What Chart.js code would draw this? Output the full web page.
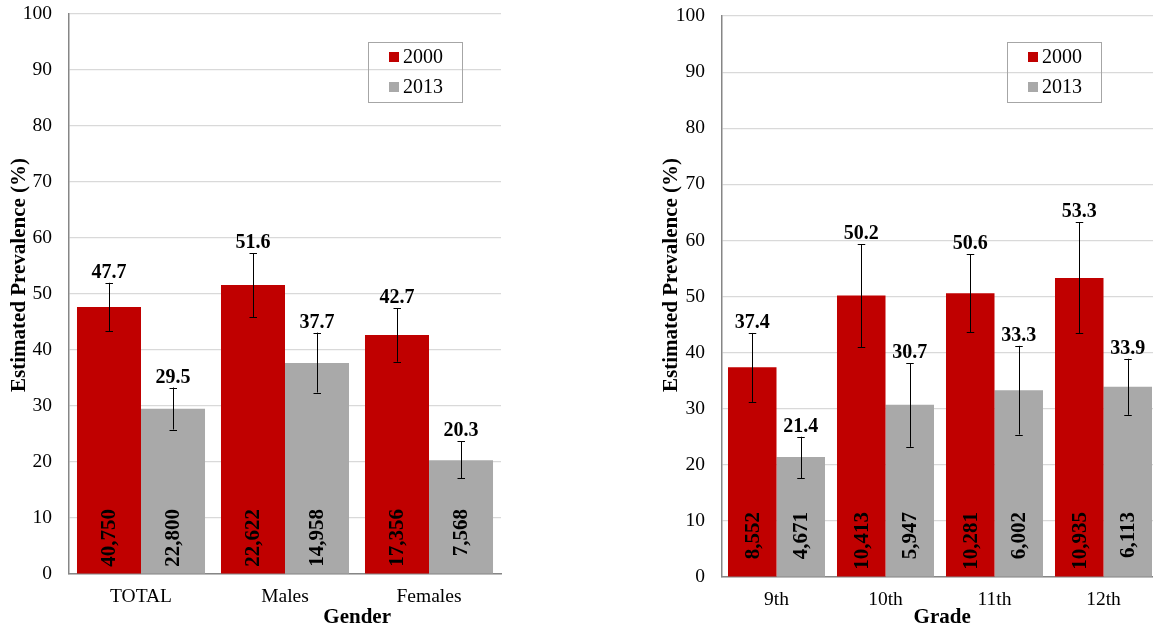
<!DOCTYPE html>
<html>
<head>
<meta charset="utf-8">
<script src="https://cdn.jsdelivr.net/npm/chart.js@4.4.0/dist/chart.umd.min.js"></script>
<style>
  html, body { margin: 0; padding: 0; background: #fff; overflow: hidden; width: 1153px; height: 630px; }
  .box { position: absolute; top: 0; }
  #left { left: 0; }
  #right { left: 645px; }
</style>
</head>
<body>
<div class="box" id="left"><canvas id="genderChart" width="515" height="630"></canvas></div>
<div class="box" id="right"><canvas id="gradeChart" width="520" height="630"></canvas></div>
<script>
// ---------------- data ----------------
const years = ['2000', '2013'];

const genderCats = ['TOTAL', 'Males', 'Females'];
const gender2000 = [47.7, 51.6, 42.7];
const gender2013 = [29.5, 37.7, 20.3];
const genderLow2000 = [43.4, 45.9, 37.9];
const genderHigh2000 = [52.0, 57.3, 47.5];
const genderLow2013 = [25.8, 32.4, 17.1];
const genderHigh2013 = [33.3, 43.1, 23.7];
const genderN2000 = ['40,750', '22,622', '17,356'];
const genderN2013 = ['22,800', '14,958', '7,568'];

const gradeCats = ['9th', '10th', '11th', '12th'];
const grade2000 = [37.4, 50.2, 50.6, 53.3];
const grade2013 = [21.4, 30.7, 33.3, 33.9];
const gradeLow2000 = [31.2, 41.0, 43.6, 43.5];
const gradeHigh2000 = [43.5, 59.3, 57.5, 63.2];
const gradeLow2013 = [17.6, 23.2, 25.4, 28.9];
const gradeHigh2013 = [25.0, 38.1, 41.2, 38.9];
const gradeN2000 = ['8,552', '10,413', '10,281', '10,935'];
const gradeN2013 = ['4,671', '5,947', '6,002', '6,113'];

const yMin = 0, yMax = 100, yStep = 10;

const RED = '#C00000';
const GRAY = '#A9A9A9';
const FONT = '"Liberation Serif", "Times New Roman", serif';

// ---------------- plugin: error bars, labels, legend, titles ----------------
const extras = {
  id: 'extras',
  afterDatasetsDraw(chart, args, opts) {
    const ctx = chart.ctx;
    const y = chart.scales.y;
    const base = y.getPixelForValue(0);

    chart.data.datasets.forEach((ds, i) => {
      const meta = chart.getDatasetMeta(i);
      meta.data.forEach((bar, j) => {
        const top = y.getPixelForValue(ds.high[j]);
        const bot = y.getPixelForValue(ds.low[j]);

        // error bar
        ctx.save();
        ctx.strokeStyle = '#000';
        ctx.lineWidth = 1;
        ctx.beginPath();
        ctx.moveTo(Math.round(bar.x) + 0.5, top);
        ctx.lineTo(Math.round(bar.x) + 0.5, bot);
        ctx.moveTo(bar.x - 3.5, Math.round(top) + 0.5);
        ctx.lineTo(bar.x + 4, Math.round(top) + 0.5);
        ctx.moveTo(bar.x - 3.5, Math.round(bot) + 0.5);
        ctx.lineTo(bar.x + 4, Math.round(bot) + 0.5);
        ctx.stroke();

        // value above
        ctx.fillStyle = '#000';
        ctx.font = 'bold 20px ' + FONT;
        ctx.textAlign = 'center';
        ctx.textBaseline = 'alphabetic';
        ctx.fillText(ds.data[j].toFixed(1), bar.x, top - 5);

        // sample size, rotated inside bar
        ctx.translate(bar.x, base - 65);
        ctx.rotate(-Math.PI / 2);
        ctx.font = 'bold 21px ' + FONT;
        ctx.textAlign = 'right';
        ctx.textBaseline = 'middle';
        ctx.fillText(ds.counts[j], 0, 1);
        ctx.restore();
      });
    });
  },
  afterDraw(chart, args, opts) {
    const ctx = chart.ctx;
    const area = chart.chartArea;
    ctx.save();

    // legend box
    const lx = opts.legendX, ly = opts.legendY;
    ctx.strokeStyle = '#A6A6A6';
    ctx.lineWidth = 1;
    ctx.strokeRect(lx + 0.5, ly + 0.5, 94, 60);
    chart.data.datasets.forEach((ds, i) => {
      const cy = ly + 15 + i * 30;
      ctx.fillStyle = ds.backgroundColor;
      ctx.fillRect(lx + 21, cy - 5, 10, 10);
      ctx.fillStyle = '#000';
      ctx.font = '20px ' + FONT;
      ctx.textAlign = 'left';
      ctx.textBaseline = 'middle';
      ctx.fillText(ds.label, lx + 35, cy + 1);
    });

    // axis titles
    ctx.fillStyle = '#000';
    ctx.font = 'bold 21px ' + FONT;
    ctx.textAlign = 'center';
    ctx.textBaseline = 'middle';
    ctx.fillText(opts.xTitle, area.left + area.width * opts.xTitlePos, 618);

    ctx.translate(opts.yTitleX, 275);
    ctx.rotate(-Math.PI / 2);
    ctx.fillText('Estimated Prevalence (%)', 0, 0);
    ctx.restore();
  }
};

function makeChart(id, cats, v2000, v2013, lo2000, hi2000, lo2013, hi2013, n2000, n2013, o) {
  const ticks = [];
  for (let v = yMin; v <= yMax; v += yStep) ticks.push(v);

  return new Chart(document.getElementById(id), {
    type: 'bar',
    data: {
      labels: cats,
      datasets: [
        { label: years[0], data: v2000, low: lo2000, high: hi2000, counts: n2000, backgroundColor: RED },
        { label: years[1], data: v2013, low: lo2013, high: hi2013, counts: n2013, backgroundColor: GRAY }
      ]
    },
    plugins: [extras],
    options: {
      responsive: false,
      animation: false,
      layout: { padding: { left: 0, top: o.top, right: o.right, bottom: 0 } },
      datasets: { bar: { categoryPercentage: o.catPct, barPercentage: 1 } },
      plugins: {
        legend: { display: false },
        tooltip: { enabled: false },
        extras: o.extras
      },
      scales: {
        x: {
          grid: { display: false, drawTicks: false },
          border: { color: '#868686', width: 1.5 },
          ticks: { color: '#000', font: { family: FONT, size: 19.5 }, padding: 11 },
          afterFit(s) { s.height = o.xHeight; s.paddingLeft = 0; s.paddingRight = 0; }
        },
        y: {
          min: yMin,
          max: yMax,
          afterBuildTicks(s) { s.ticks = ticks.map(v => ({ value: v })); },
          grid: { color: '#D9D9D9', lineWidth: 1.2, drawTicks: false },
          border: { color: '#868686', width: 1.5 },
          ticks: { color: '#000', font: { family: FONT, size: 19.5 }, padding: 17 },
          afterFit(s) { s.width = o.yWidth; s.paddingTop = 0; s.paddingBottom = 0; }
        }
      }
    }
  });
}

makeChart('genderChart', genderCats, gender2000, gender2013,
  genderLow2000, genderHigh2000, genderLow2013, genderHigh2013, genderN2000, genderN2013,
  { top: 14, right: 14, xHeight: 56, yWidth: 69, catPct: 0.889,
    extras: { legendX: 368, legendY: 42, xTitle: 'Gender', xTitlePos: 0.667, yTitleX: 20 } });

makeChart('gradeChart', gradeCats, grade2000, grade2013,
  gradeLow2000, gradeHigh2000, gradeLow2013, gradeHigh2013, gradeN2000, gradeN2013,
  { top: 16, right: 7, xHeight: 53, yWidth: 77, catPct: 0.89,
    extras: { legendX: 362, legendY: 42, xTitle: 'Grade', xTitlePos: 0.505, yTitleX: 27 } });
</script>
</body>
</html>
